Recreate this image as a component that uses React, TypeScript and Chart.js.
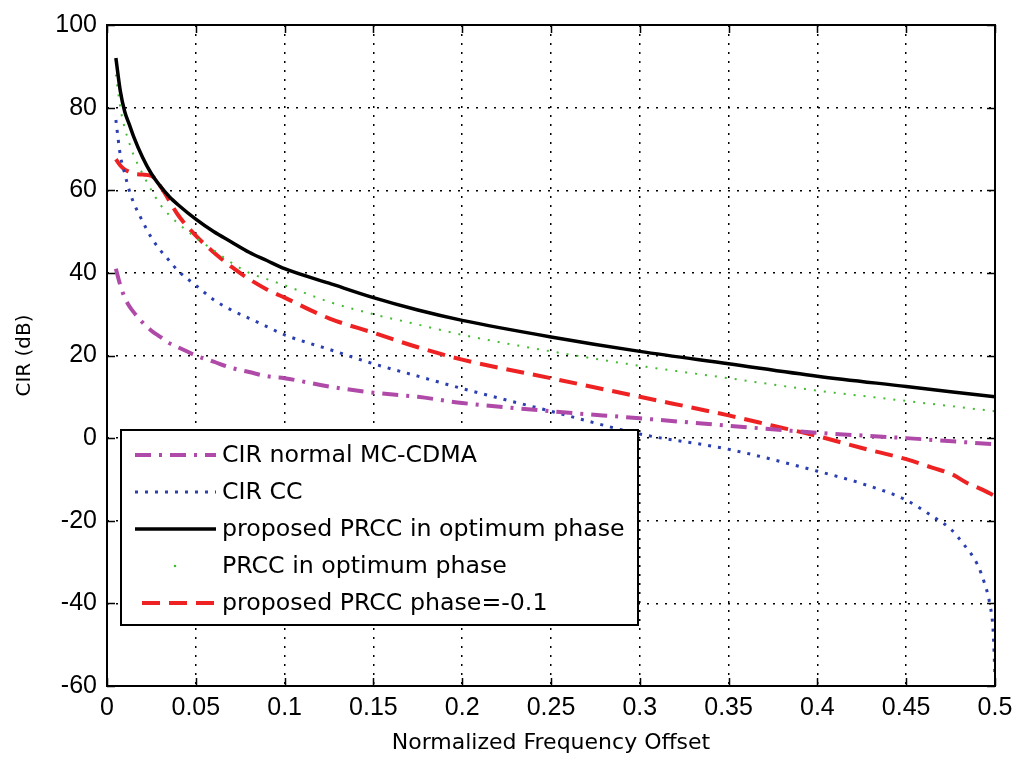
import React, { useEffect, useRef } from 'react';
import { Chart, registerables } from 'chart.js';

Chart.register(...registerables);

// Normalized frequency offset (x) for most series
const freq = [0.005, 0.0075, 0.01, 0.0125, 0.015, 0.02, 0.025, 0.03, 0.035, 0.04, 0.05, 0.06, 0.07, 0.08, 0.09, 0.1, 0.125, 0.15, 0.175, 0.2, 0.25, 0.3, 0.35, 0.4, 0.45, 0.5];

const cirNormal = [41, 37, 34, 32, 30.5, 28, 26, 24.5, 23, 22, 20, 18.5, 17, 16, 15, 14.5, 12.5, 11, 10, 8.5, 6.5, 4.8, 3, 1.3, 0, -1.5];
const proposedOpt = [92, 84, 79, 76, 73, 68, 64, 61, 58.5, 56.5, 53, 50, 47.5, 45, 43, 41, 37.5, 34, 31, 28.5, 24.5, 21, 18, 15, 12.5, 10];
const prccOpt = [88, 80, 75, 71.5, 68.5, 64, 60, 56.5, 54, 52, 48.5, 45.5, 42.5, 40, 38.5, 37, 33, 30, 27.5, 25, 21, 17.5, 14.5, 11.5, 9, 6.5];

// proposed PRCC phase=-0.1 has its own x grid (more points at the end)
const freqPhase = [0.005, 0.0075, 0.01, 0.0125, 0.015, 0.02, 0.025, 0.03, 0.035, 0.04, 0.05, 0.06, 0.07, 0.08, 0.09, 0.1, 0.125, 0.15, 0.175, 0.2, 0.25, 0.3, 0.35, 0.375, 0.4, 0.425, 0.45, 0.465, 0.476, 0.484, 0.4925, 0.5];
const proposedPhase = [67.5, 66, 65, 64.5, 64, 63.8, 63.5, 61, 57.5, 54, 49, 45, 41.5, 38.5, 36, 34, 29, 25.5, 22, 19, 14.5, 10, 5.5, 3, 0.5, -2.4, -5.1, -7.2, -8.8, -10.8, -12.4, -14];

// CIR CC has its own x grid (steep drop near 0.5)
const freqCC = [0.005, 0.0075, 0.01, 0.0125, 0.015, 0.02, 0.025, 0.03, 0.035, 0.04, 0.05, 0.06, 0.07, 0.08, 0.09, 0.1, 0.125, 0.15, 0.175, 0.2, 0.25, 0.3, 0.35, 0.4, 0.425, 0.45, 0.465, 0.475, 0.482, 0.49, 0.494, 0.497, 0.499, 0.5];
const cirCC = [77, 68.5, 64, 60, 57, 52.5, 48.5, 45.5, 43, 40.5, 37, 33.5, 31, 29, 27, 25, 21.5, 18, 15, 12, 6.5, 1, -2.7, -8, -11, -15, -19, -22, -25.5, -30.5, -35, -40, -47, -58];

const seriesLabels = [
  'CIR normal MC-CDMA',
  'CIR CC',
  'proposed PRCC in optimum phase',
  'PRCC in optimum phase',
  'proposed PRCC phase=-0.1',
];

const xTicks = [0, 0.05, 0.1, 0.15, 0.2, 0.25, 0.3, 0.35, 0.4, 0.45, 0.5];
const xTickLabels = ['0', '0.05', '0.1', '0.15', '0.2', '0.25', '0.3', '0.35', '0.4', '0.45', '0.5'];
const yTicks = [-60, -40, -20, 0, 20, 40, 60, 80, 100];
const yTickLabels = ['-60', '-40', '-20', '0', '20', '40', '60', '80', '100'];

const toPoints = (xs: number[], ys: number[]) => xs.map((x, i) => ({ x, y: ys[i] }));

const matlabFrame = {
  id: 'matlabFrame',
  afterDatasetsDraw(chart: any) {
    const { ctx, chartArea } = chart;
    const { left, right, top, bottom } = chartArea;
    const xs = chart.scales.x;
    const ys = chart.scales.y;
    ctx.save();
    ctx.setLineDash([]);
    ctx.strokeStyle = '#000';
    ctx.lineWidth = 1.5;
    const tl = 8;
    ctx.beginPath();
    xTicks.forEach((v) => {
      const p = Math.round(xs.getPixelForValue(v)) + 0.5;
      ctx.moveTo(p, bottom);
      ctx.lineTo(p, bottom - tl);
      ctx.moveTo(p, top);
      ctx.lineTo(p, top + tl);
    });
    yTicks.forEach((v) => {
      const p = Math.round(ys.getPixelForValue(v)) + 0.5;
      ctx.moveTo(left, p);
      ctx.lineTo(left + tl, p);
      ctx.moveTo(right, p);
      ctx.lineTo(right - tl, p);
    });
    ctx.stroke();
    ctx.lineWidth = 2;
    ctx.strokeRect(left, top, right - left, bottom - top);

    // legend box
    const bx = left + 14;
    const by = 430;
    const bw = 517;
    const bh = 195;
    ctx.fillStyle = '#fff';
    ctx.fillRect(bx, by, bw, bh);
    ctx.lineWidth = 2;
    ctx.strokeStyle = '#000';
    ctx.strokeRect(bx, by, bw, bh);
    const order = [0, 1, 2, 3, 4];
    order.forEach((di, i) => {
      const ds = chart.data.datasets[di];
      const y = by + 25 + i * 37;
      ctx.save();
      ctx.strokeStyle = ds.borderColor;
      ctx.lineWidth = ds.borderWidth;
      if (di === 3) {
        ctx.fillStyle = ds.borderColor;
        ctx.beginPath();
        ctx.arc(bx + 54, y, 1.3, 0, Math.PI * 2);
        ctx.fill();
      } else {
        ctx.setLineDash(ds.borderDash || []);
        ctx.beginPath();
        ctx.moveTo(di === 4 ? bx + 21 : bx + 14, y);
        ctx.lineTo(bx + 95, y);
        ctx.stroke();
      }
      ctx.restore();
      ctx.fillStyle = '#000';
      ctx.font = '23.7px "DejaVu Sans"';
      ctx.textBaseline = 'middle';
      ctx.textAlign = 'left';
      ctx.fillText(ds.label, bx + 101, y + 1);
    });
    ctx.restore();
  },
};

export default function App() {
  const canvasRef = useRef<HTMLCanvasElement | null>(null);

  useEffect(() => {
    const canvas = canvasRef.current;
    if (!canvas) return;
    const tickFont = { family: '"Liberation Sans", Arial, sans-serif', size: 25 };
    const chart = new Chart(canvas, {
      type: 'line',
      data: {
        datasets: [
          {
            label: seriesLabels[0],
            data: toPoints(freq, cirNormal),
            borderColor: '#b04aa8',
            borderWidth: 4,
            borderDash: [16, 8, 3, 8],
            pointRadius: 0,
            cubicInterpolationMode: 'monotone',
            fill: false,
          },
          {
            label: seriesLabels[1],
            data: toPoints(freqCC, cirCC),
            borderColor: '#2b3fb0',
            borderWidth: 3,
            borderDash: [3, 7],
            pointRadius: 0,
            cubicInterpolationMode: 'monotone',
            fill: false,
          },
          {
            label: seriesLabels[2],
            data: toPoints(freq, proposedOpt),
            borderColor: '#000000',
            borderWidth: 3.5,
            pointRadius: 0,
            cubicInterpolationMode: 'monotone',
            fill: false,
          },
          {
            label: seriesLabels[3],
            data: toPoints(freq, prccOpt),
            borderColor: '#44bb33',
            borderWidth: 2,
            borderDash: [2, 8],
            pointRadius: 0,
            cubicInterpolationMode: 'monotone',
            fill: false,
          },
          {
            label: seriesLabels[4],
            data: toPoints(freqPhase, proposedPhase),
            borderColor: '#ee2222',
            borderWidth: 4,
            borderDash: [18, 9],
            pointRadius: 0,
            cubicInterpolationMode: 'monotone',
            fill: false,
          },
        ],
      },
      options: {
        responsive: false,
        animation: false,
        events: [],
        layout: { padding: { top: 18, right: 34, left: 0, bottom: 0 } },
        plugins: {
          legend: { display: false },
          tooltip: { enabled: false },
          title: { display: false },
        },
        scales: {
          x: {
            type: 'linear',
            min: 0,
            max: 0.5,
            afterBuildTicks: (scale: any) => {
              scale.ticks = xTicks.map((v) => ({ value: v }));
            },
            afterFit: (scale: any) => {
              scale.height = 73;
            },
            ticks: {
              autoSkip: false,
              maxRotation: 0,
              padding: 7,
              color: '#000',
              font: tickFont,
              callback: (_v: any, i: number) => xTickLabels[i],
            },
            grid: {
              color: '#000',
              lineWidth: 1.5,
              drawTicks: false,
            },
            border: { display: false, dash: [2, 7] },
            title: {
              display: true,
              text: 'Normalized Frequency Offset',
              color: '#000',
              font: { family: '"DejaVu Sans", sans-serif', size: 22 },
              padding: { top: 0, bottom: 3 },
            },
          },
          y: {
            type: 'linear',
            min: -60,
            max: 100,
            afterBuildTicks: (scale: any) => {
              scale.ticks = yTicks.map((v) => ({ value: v }));
            },
            afterFit: (scale: any) => {
              scale.width = 107;
            },
            ticks: {
              autoSkip: false,
              padding: 10,
              color: '#000',
              font: tickFont,
              callback: (_v: any, i: number) => yTickLabels[i],
            },
            grid: {
              color: '#000',
              lineWidth: 1.5,
              drawTicks: false,
            },
            border: { display: false, dash: [2, 7] },
            title: {
              display: true,
              text: 'CIR (dB)',
              color: '#000',
              font: { family: '"DejaVu Sans", sans-serif', size: 20 },
              padding: { top: 13, bottom: 0 },
            },
          },
        },
      },
      plugins: [matlabFrame],
    } as any);
    return () => chart.destroy();
  }, []);

  return (
    <div style={{ position: 'fixed', left: 0, top: 0, width: 1029, height: 759, background: '#fff' }}>
      <canvas ref={canvasRef} width={1029} height={759} style={{ display: 'block' }} />
    </div>
  );
}
